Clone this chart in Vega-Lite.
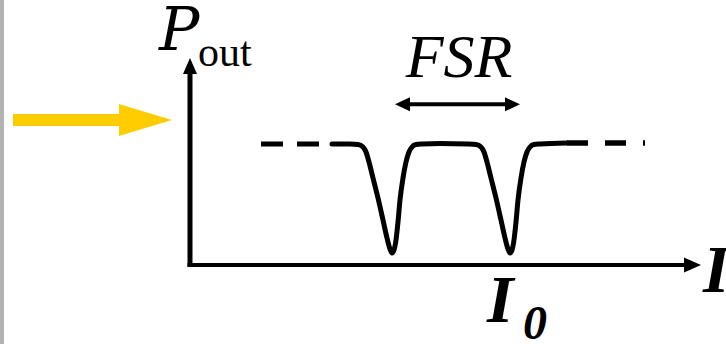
{
  "$schema": "https://vega.github.io/schema/vega-lite/v6.json",
  "width": 726,
  "height": 344,
  "padding": 0,
  "autosize": {"type": "none"},
  "background": "white",
  "config": {"view": {"stroke": null}},
  "datasets": {
    "border": [{"u": -188, "v": -79, "v2": 265}],
    "inputShaft": [{"u": -177, "u2": -66, "v": 145}],
    "inputHead": [{"u": -44.5, "v": 145}],
    "yAxis": [{"u": 0, "v": -2, "v2": 192}],
    "yHead": [{"u": 0, "v": 199}],
    "xAxis": [{"u": -2.5, "u2": 495, "v": 0}],
    "xHead": [{"u": 502.5, "v": 0}],
    "dashLeft": [{"u": 71, "v": 121}, {"u": 142, "v": 121}],
    "dashRight": [{"u": 377, "v": 122}, {"u": 455, "v": 122}],
    "spectrum": [
      {"u": 142, "v": 121}, {"u": 160, "v": 121}, {"u": 168, "v": 120.5}, {"u": 173, "v": 118},
      {"u": 176, "v": 113}, {"u": 179, "v": 103}, {"u": 183, "v": 87}, {"u": 188, "v": 67},
      {"u": 193, "v": 45}, {"u": 197, "v": 27}, {"u": 200, "v": 16}, {"u": 202, "v": 12},
      {"u": 204, "v": 15}, {"u": 206, "v": 25}, {"u": 208, "v": 43}, {"u": 210, "v": 65},
      {"u": 213, "v": 87}, {"u": 216, "v": 103}, {"u": 219, "v": 113}, {"u": 222, "v": 118},
      {"u": 226, "v": 120.5}, {"u": 232, "v": 121}, {"u": 250, "v": 121.5}, {"u": 278, "v": 121},
      {"u": 286, "v": 120.5}, {"u": 291, "v": 118}, {"u": 294, "v": 113}, {"u": 297, "v": 103},
      {"u": 301, "v": 87}, {"u": 306, "v": 67}, {"u": 311, "v": 45}, {"u": 315, "v": 27},
      {"u": 318, "v": 16}, {"u": 320, "v": 12}, {"u": 322, "v": 15}, {"u": 324, "v": 25},
      {"u": 326, "v": 43}, {"u": 328, "v": 65}, {"u": 331, "v": 87}, {"u": 334, "v": 103},
      {"u": 337, "v": 113}, {"u": 340, "v": 118}, {"u": 344, "v": 120.5}, {"u": 350, "v": 121},
      {"u": 377, "v": 122}
    ],
    "fsrShaft": [{"u": 218, "u2": 317, "v": 160.7}],
    "fsrLeft": [{"u": 212.5, "v": 160.7}],
    "fsrRight": [{"u": 322.5, "v": 160.7}],
    "pLabel": [{"u": -31, "v": 215, "label": "P"}],
    "outLabel": [{"u": 8, "v": 199, "label": "out"}],
    "fsrLabel": [{"u": 269, "v": 188, "label": "FSR"}],
    "lambdaLabels": [{"u": 513, "v": -27, "label": "I"}, {"u": 297, "v": -57, "label": "I"}],
    "subLabel": [{"u": 333, "v": -74, "label": "0"}]
  },
  "encoding": {
    "x": {"field": "u", "type": "quantitative", "scale": {"domain": [-190, 536], "nice": false, "zero": false}, "axis": null},
    "y": {"field": "v", "type": "quantitative", "scale": {"domain": [-79, 265], "nice": false, "zero": false}, "axis": null}
  },
  "layer": [
    {"data": {"name": "border"}, "mark": {"type": "rule", "color": "#b3b3b3", "strokeWidth": 4},
     "encoding": {"y2": {"field": "v2"}}},
    {"data": {"name": "inputShaft"}, "mark": {"type": "rule", "color": "#FFCC00", "strokeWidth": 12, "strokeCap": "butt"},
     "encoding": {"x2": {"field": "u2"}}},
    {"data": {"name": "inputHead"}, "mark": {"type": "point", "shape": "M1,0L-1,-0.6L-1,0.6Z", "size": 2809, "filled": true, "color": "#FFCC00", "opacity": 1}},
    {"data": {"name": "yAxis"}, "mark": {"type": "rule", "color": "black", "strokeWidth": 5, "strokeCap": "butt"},
     "encoding": {"y2": {"field": "v2"}}},
    {"data": {"name": "yHead"}, "mark": {"type": "point", "shape": "M0,-1L0.875,1L-0.875,1Z", "size": 256, "filled": true, "color": "black", "opacity": 1}},
    {"data": {"name": "xAxis"}, "mark": {"type": "rule", "color": "black", "strokeWidth": 4, "strokeCap": "butt"},
     "encoding": {"x2": {"field": "u2"}}},
    {"data": {"name": "xHead"}, "mark": {"type": "point", "shape": "M1,0L-1,-0.88L-1,0.88Z", "size": 289, "filled": true, "color": "black", "opacity": 1}},
    {"data": {"name": "dashLeft"}, "mark": {"type": "line", "color": "black", "strokeWidth": 5, "strokeDash": [22, 14], "strokeCap": "butt"}},
    {"data": {"name": "dashRight"}, "mark": {"type": "line", "color": "black", "strokeWidth": 5.5, "strokeDash": [21, 17], "strokeCap": "butt"}},
    {"data": {"name": "spectrum"}, "mark": {"type": "line", "color": "black", "strokeWidth": 5, "interpolate": "monotone", "strokeCap": "round", "strokeJoin": "round"}},
    {"data": {"name": "fsrShaft"}, "mark": {"type": "rule", "color": "black", "strokeWidth": 4, "strokeCap": "butt"},
     "encoding": {"x2": {"field": "u2"}}},
    {"data": {"name": "fsrLeft"}, "mark": {"type": "point", "shape": "M-1,0L1,-0.93L1,0.93Z", "size": 225, "filled": true, "color": "black", "opacity": 1}},
    {"data": {"name": "fsrRight"}, "mark": {"type": "point", "shape": "M1,0L-1,-0.93L-1,0.93Z", "size": 225, "filled": true, "color": "black", "opacity": 1}},
    {"data": {"name": "pLabel"}, "mark": {"type": "text", "font": "DejaVu Serif", "fontStyle": "italic", "fontSize": 60, "align": "left", "baseline": "alphabetic", "color": "black"},
     "encoding": {"text": {"field": "label"}}},
    {"data": {"name": "outLabel"}, "mark": {"type": "text", "font": "Liberation Serif", "fontSize": 42, "align": "left", "baseline": "alphabetic", "color": "black"},
     "encoding": {"text": {"field": "label"}}},
    {"data": {"name": "fsrLabel"}, "mark": {"type": "text", "font": "serif", "fontStyle": "italic", "fontSize": 62, "align": "center", "baseline": "alphabetic", "color": "black"},
     "encoding": {"text": {"field": "label"}}},
    {"data": {"name": "lambdaLabels"}, "mark": {"type": "text", "font": "Times New Roman", "fontStyle": "italic", "fontWeight": "bold", "fontSize": 68, "align": "left", "baseline": "alphabetic", "color": "black"},
     "encoding": {"text": {"field": "label"}}},
    {"data": {"name": "subLabel"}, "mark": {"type": "text", "font": "Liberation Serif", "fontStyle": "italic", "fontWeight": "bold", "fontSize": 48, "align": "left", "baseline": "alphabetic", "color": "black"},
     "encoding": {"text": {"field": "label"}}}
  ]
}
